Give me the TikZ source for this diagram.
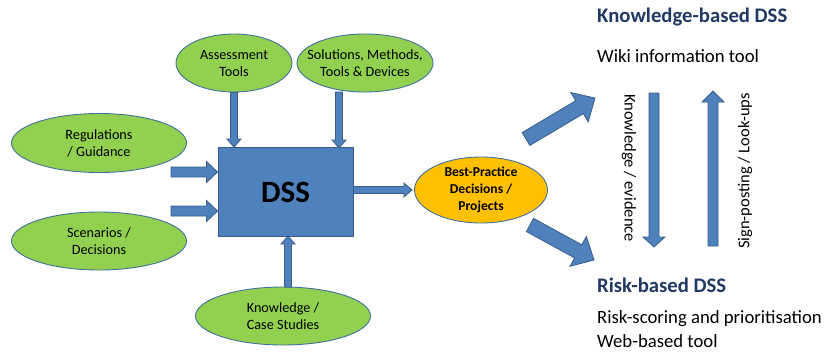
\documentclass[tikz,border=0pt]{standalone}
\usepackage{fontspec}
\setmainfont{Carlito}
\usetikzlibrary{calc,shapes.geometric}
\definecolor{leaf}{HTML}{92D050}
\definecolor{rim}{HTML}{41719C}
\definecolor{barfill}{HTML}{4F81BD}
\definecolor{baredge}{HTML}{385D8A}
\definecolor{gold}{HTML}{FFC000}
\definecolor{navy}{HTML}{1F3864}
\tikzset{
  leafnode/.style={ellipse, draw=rim, line width=0.9pt, fill=leaf, inner xsep=-20pt, inner ysep=-4pt,
    align=center, font=\fontsize{14.2}{17}\selectfont},
  blockstyle/.style={draw=baredge, line width=0.8pt, fill=barfill},
  headtext/.style={anchor=base west, text=navy, font=\fontsize{20.7}{24}\bfseries\selectfont, inner sep=0pt},
  bodytext/.style={anchor=base west, font=\fontsize{18.7}{22}\selectfont, inner sep=0pt},
  sidetext/.style={font=\fontsize{16.5}{19}\selectfont, inner sep=0pt},
}
% #1 from, #2 to, #3 shaft half width, #4 head half width, #5 head length
\newcommand\blockarrow[5]{%
  \coordinate (ba-n) at ($(#2)!#5!(#1)$);
  \draw[blockstyle] ($(#1)!#3!90:(#2)$) -- ($(ba-n)!#3!-90:(#1)$) -- ($(ba-n)!#4!-90:(#1)$)
    -- (#2) -- ($(ba-n)!#4!90:(#1)$) -- ($(ba-n)!#3!90:(#1)$) -- ($(#1)!#3!-90:(#2)$) -- cycle;}
\begin{document}
\begin{tikzpicture}[x=1pt,y=-1pt]
\useasboundingbox (0,0) rectangle (826,356);
% nodes
\node[leafnode, minimum width=116pt, minimum height=58pt] (assess) at (234,63) {Assessment\\Tools};
\node[leafnode, minimum width=136pt, minimum height=58pt] (solut) at (365,63) {Solutions, Methods,\\Tools \& Devices};
\node[leafnode, minimum width=175pt, minimum height=59pt] (regul) at (99,143) {Regulations\\/ Guidance};
\node[leafnode, minimum width=175pt, minimum height=58pt] (scen) at (99,241) {Scenarios /\\Decisions};
\node[leafnode, minimum width=175pt, minimum height=58pt] (know) at (283,316) {Knowledge /\\Case Studies};
\node[draw=baredge, line width=0.9pt, fill=barfill, minimum width=135pt, minimum height=89pt,
  inner sep=0pt, font=\fontsize{31}{34}\bfseries\selectfont] (dss) at (285.5,192) {DSS};
\node[ellipse, draw=rim, line width=0.9pt, fill=gold, minimum width=133pt, minimum height=66pt,
  inner xsep=-10pt, inner ysep=-6pt, align=center, font=\fontsize{13.6}{17}\bfseries\selectfont] (best) at (481,190)
  {Best-Practice\\Decisions /\\Projects};
% right texts
\node[headtext] (kbtitle) at (597,22) {Knowledge-based DSS};
\node[bodytext] (kbbody) at (597,62) {Wiki information tool};
\node[headtext] (rbtitle) at (597,292) {Risk-based DSS};
\node[bodytext] (rbbody1) at (597,323) {Risk-scoring and prioritisation};
\node[bodytext] (rbbody2) at (597,347) {Web-based tool};
\node[sidetext, rotate=-90] (kev) at (629,168) {Knowledge / evidence};
\node[sidetext, rotate=90] (slu) at (745,171) {Sign-posting / Look-ups};
% arrow end points
\coordinate (a1s) at (assess.south);
\coordinate (a1e) at (assess.south |- dss.north);
\coordinate (a2s) at (339,92);
\coordinate (a2e) at (339,148);
\coordinate (a3s) at (171,172);
\coordinate (a3e) at (dss.west |- a3s);
\coordinate (a4s) at (171,211);
\coordinate (a4e) at (dss.west |- a4s);
\coordinate (a5s) at (288,287);
\coordinate (a5e) at (288,236);
\coordinate (a6s) at (dss.east |- best.west);
\coordinate (a6e) at (412,190);
\coordinate (a7s) at (526,139);
\coordinate (a7e) at (595,98);
\coordinate (a8s) at (530,225);
\coordinate (a8e) at (594,260);
\coordinate (a9s) at (654,93);
\coordinate (a9e) at (654,247);
\coordinate (a10s) at (713,246);
\coordinate (a10e) at (713,91);
% arrows
\blockarrow{a1s}{a1e}{3.5pt}{7pt}{8pt}
\blockarrow{a2s}{a2e}{3.5pt}{7pt}{8pt}
\blockarrow{a3s}{a3e}{5pt}{10.5pt}{11pt}
\blockarrow{a4s}{a4e}{5pt}{10.5pt}{11pt}
\blockarrow{a5s}{a5e}{3.5pt}{7pt}{8pt}
\blockarrow{a6s}{a6e}{3.5pt}{7pt}{8pt}
\blockarrow{a7s}{a7e}{7.5pt}{17pt}{18pt}
\blockarrow{a8s}{a8e}{7.5pt}{17pt}{18pt}
\blockarrow{a9s}{a9e}{5pt}{11pt}{10pt}
\blockarrow{a10s}{a10e}{5pt}{11pt}{11pt}
\end{tikzpicture}
\end{document}
